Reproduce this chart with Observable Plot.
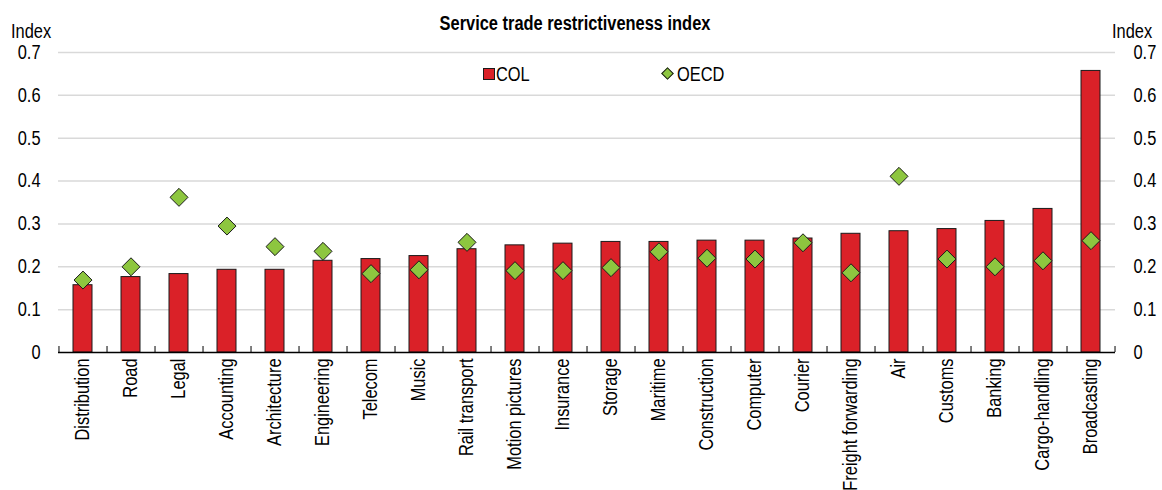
<!DOCTYPE html>
<html><head><meta charset="utf-8">
<script src="https://cdn.jsdelivr.net/npm/d3@7"></script>
<script src="https://cdn.jsdelivr.net/npm/@observablehq/plot@0.6"></script>
<style>
body{margin:0;background:#fff;}
#wrap{position:relative;width:1162px;height:490px;font-family:"Liberation Sans",Arial,sans-serif;color:#000;}
.ov{position:absolute;white-space:nowrap;font-size:20px;line-height:1;}
</style></head><body><div id="wrap"></div>
<script>
const categories = ["Distribution","Road","Legal","Accounting","Architecture","Engineering","Telecom","Music","Rail transport","Motion pictures","Insurance","Storage","Maritime","Construction","Computer","Courier","Freight forwarding","Air","Customs","Banking","Cargo-handling","Broadcasting"];
const colValues = [0.157,0.176,0.183,0.193,0.193,0.214,0.218,0.225,0.241,0.250,0.254,0.258,0.258,0.261,0.261,0.266,0.277,0.283,0.288,0.307,0.335,0.657];
const oecdValues = [0.169,0.200,0.362,0.295,0.247,0.236,0.184,0.193,0.257,0.191,0.191,0.198,0.235,0.220,0.218,0.256,0.186,0.411,0.218,0.200,0.214,0.261];
const yTicks = [0,0.1,0.2,0.3,0.4,0.5,0.6,0.7];
const seriesNames = ["COL","OECD"];
const titleText = "Service trade restrictiveness index";
const axisTitle = "Index";

const data = categories.map((c,i)=>({cat:c, col:colValues[i], oecd:oecdValues[i]}));
const W=1162,H=490,ML=58,MR=47,MT=52,MB=138;
const step=(W-ML-MR)/categories.length;
const RED="#DA2128", GREEN="#8DC63F", EDGE="#1a1a1a";
const NARROW=0.82;
const fmt = d => d===0 ? "0" : d3.format(".1f")(d);

const chart = Plot.plot({
  width:W, height:H, marginLeft:ML, marginRight:MR, marginTop:MT, marginBottom:MB,
  style:{fontFamily:'"Liberation Sans",Arial,sans-serif', fontSize:"20px", color:"#000", background:"#fff"},
  x:{domain:categories, paddingInner:0.6, paddingOuter:0.3, label:null},
  y:{domain:[0,0.7], label:null},
  marks:[
    Plot.ruleY(yTicks.filter(d=>d>0), {stroke:"#d9d9d9", strokeWidth:1.5}),
    Plot.barY(data, {x:"cat", y:"col", fill:RED, stroke:EDGE, strokeWidth:1}),
    Plot.ruleY([0], {stroke:"#000", strokeWidth:1.5}),
    Plot.axisX({tickSize:6, tickFormat:()=>"", dx:step/2, dy:-6, label:null}),
    Plot.axisX([categories[0]], {tickSize:6, tickFormat:()=>"", dx:-step/2, dy:-6, label:null}),
    Plot.axisX({tickSize:0, tickPadding:6, tickRotate:-90, label:null}),
    Plot.dot(data, {x:"cat", y:"oecd", symbol:"diamond2", r:8.1, fill:GREEN, stroke:EDGE, strokeWidth:1}),
    Plot.axisY({anchor:"left", ticks:yTicks, tickSize:0, tickPadding:18, tickFormat:fmt, label:null}),
    Plot.axisY({anchor:"right", ticks:yTicks, tickSize:0, tickPadding:18, tickFormat:fmt, label:null})
  ]
});
const wrap=document.getElementById("wrap");
wrap.appendChild(chart);
chart.style.position="absolute"; chart.style.left="0"; chart.style.top="0";

// emulate a narrow typeface: squeeze every SVG text along its own direction
chart.querySelectorAll("text").forEach(t=>{
  const spans=t.querySelectorAll("tspan");
  const targets=spans.length?spans:[t];
  targets.forEach(el=>{
    const len=el.getComputedTextLength();
    if(len>0){el.setAttribute("textLength",len*NARROW);el.setAttribute("lengthAdjust","spacingAndGlyphs");}
  });
});

function ov(text, css, origin){const d=document.createElement("div");d.className="ov";d.textContent=text;Object.assign(d.style,css);d.style.transform="scaleX("+NARROW+")";d.style.transformOrigin=origin||"left center";wrap.appendChild(d);return d;}
ov(titleText,{left:"0px",width:"1150px",textAlign:"center",top:"13px",fontWeight:"bold"},"center center");
ov(axisTitle,{left:"11px",top:"21px"});
ov(axisTitle,{left:"1112px",top:"21px"});
// legend
const sq=document.createElement("div");Object.assign(sq.style,{position:"absolute",left:"483px",top:"68px",width:"10px",height:"10px",background:RED,border:"1px solid "+EDGE});wrap.appendChild(sq);
ov(seriesNames[0],{left:"496px",top:"64px"});
const dm=document.createElement("div");Object.assign(dm.style,{position:"absolute",left:"663px",top:"69px",width:"7px",height:"7px",background:GREEN,border:"1px solid "+EDGE,transform:"rotate(45deg)"});wrap.appendChild(dm);
ov(seriesNames[1],{left:"677px",top:"64px"});
</script>
</body></html>
